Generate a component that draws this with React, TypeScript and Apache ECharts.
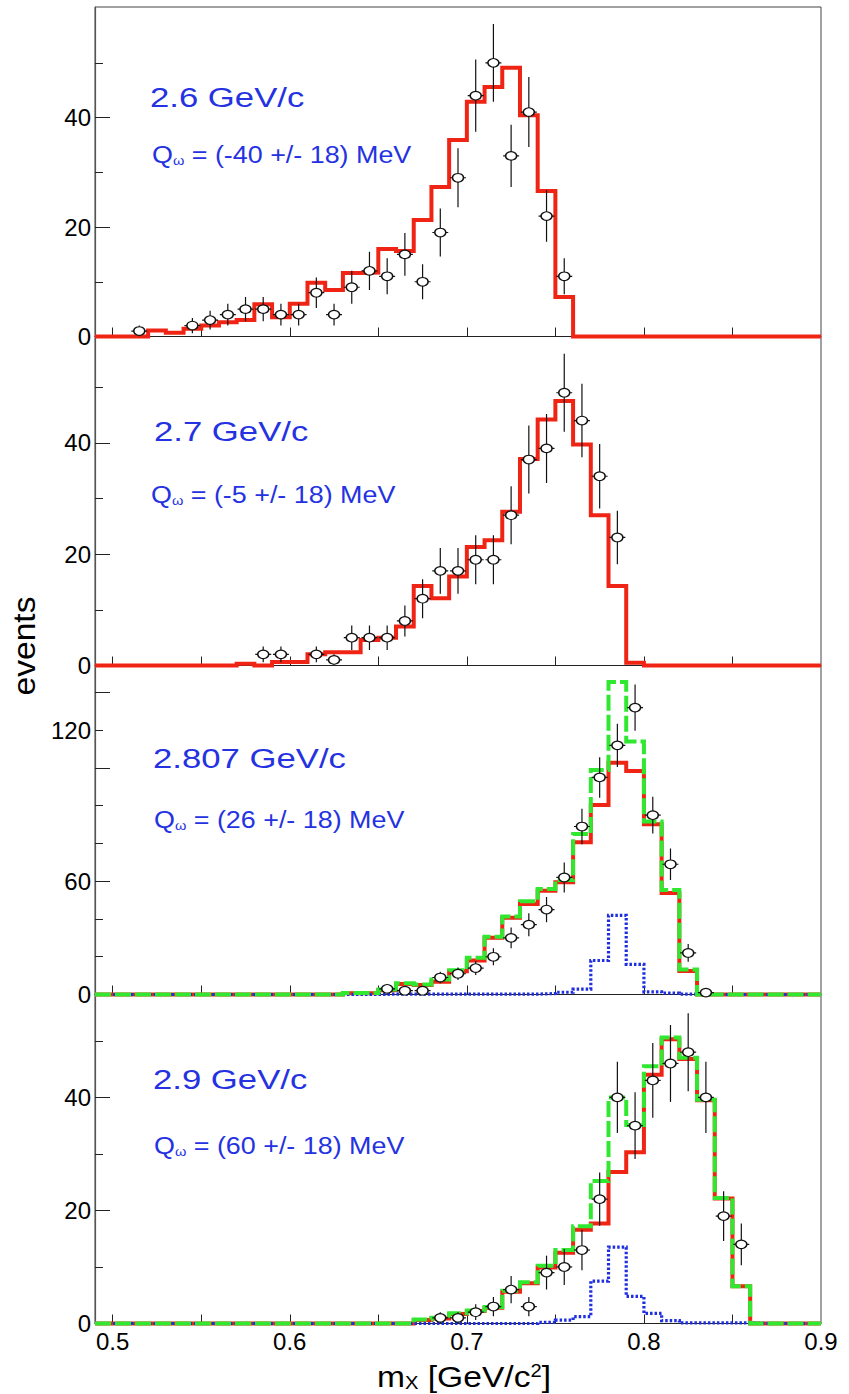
import React, { useEffect, useRef } from "react";
import * as echarts from "echarts";

// ---------- data ----------
const BIN_EDGES = [
  0.49, 0.5, 0.51, 0.52, 0.53, 0.54, 0.55, 0.56, 0.57, 0.58, 0.59, 0.6, 0.61, 0.62,
  0.63, 0.64, 0.65, 0.66, 0.67, 0.68, 0.69, 0.7, 0.71, 0.72, 0.73, 0.74, 0.75, 0.76,
  0.77, 0.78, 0.79, 0.8, 0.81, 0.82, 0.83, 0.84, 0.85, 0.86, 0.87, 0.88, 0.89, 0.9,
];

const P1_RED = [
  0, 0, 0, 1.1, 0.7, 1.4, 2.0, 2.6, 3.0, 5.9, 3.5, 6.0, 9.8, 8.5, 11.6, 11.7, 16.0, 15.6,
  21.3, 27.3, 35.9, 42.9, 45.6, 49.1, 40.4, 26.6, 7.2, 0, 0, 0, 0, 0, 0, 0, 0, 0, 0, 0, 0, 0, 0,
];
const P2_RED = [
  0, 0, 0, 0, 0, 0, 0, 0, 0.3, 0, 0.65, 0.65, 2.0, 2.4, 2.4, 4.6, 5.0, 7.0, 14.3, 12.1, 16.0,
  21.3, 22.5, 27.6, 37.1, 44.2, 47.5, 39.7, 27.0, 14.3, 0.5, 0, 0, 0, 0, 0, 0, 0, 0, 0, 0,
];
const P3_RED = [
  0, 0, 0, 0, 0, 0, 0, 0, 0, 0, 0, 0, 0, 0, 0.6, 0.6, 2.3, 5.5, 5.0, 6.7, 12.3, 18.0, 30.0,
  40.6, 48.0, 55.0, 59.5, 80.6, 100.4, 122.8, 118.4, 90.2, 53.8, 12.5, 0, 0, 0, 0, 0, 0, 0,
];
const P3_GREEN = [
  0, 0, 0, 0, 0, 0, 0, 0, 0, 0, 0, 0, 0, 0, 0.8, 0.8, 2.6, 6.0, 5.3, 8.0, 12.8, 19.5, 30.6,
  41.3, 49.4, 55.9, 60.7, 85.0, 119.0, 165.5, 134.0, 91.6, 55.4, 13.2, 0, 0, 0, 0, 0, 0, 0,
];
const P3_BLUE = [
  0, 0, 0, 0, 0, 0, 0, 0, 0, 0, 0, 0, 0, 0, 0, 0, 0.2, 0.2, 0.2, 0.2, 0.2, 0.2, 0.2, 0.2, 0.2,
  0.5, 1.2, 2.8, 18.0, 41.9, 16.0, 1.4, 0.7, 0.2, 0, 0, 0, 0, 0, 0, 0,
];
const P4_RED = [
  0, 0, 0, 0, 0, 0, 0, 0, 0, 0, 0, 0, 0, 0, 0, 0, 0, 0, 0.6, 0.9, 1.7, 2.2, 2.8, 5.6, 7.1,
  9.9, 12.5, 16.6, 17.7, 26.8, 30.3, 44.0, 50.3, 46.8, 39.5, 22.1, 6.6, 0, 0, 0, 0,
];
const P4_GREEN = [
  0, 0, 0, 0, 0, 0, 0, 0, 0, 0, 0, 0, 0, 0, 0, 0, 0, 0, 0.7, 1.0, 1.8, 2.3, 2.9, 5.8, 7.3,
  10.2, 13.0, 17.2, 25.2, 40.0, 35.1, 45.5, 50.6, 47.0, 39.6, 22.2, 6.6, 0, 0, 0, 0,
];
const P4_BLUE = [
  0, 0, 0, 0, 0, 0, 0, 0, 0, 0, 0, 0, 0, 0, 0, 0, 0, 0, 0, 0, 0, 0, 0, 0, 0, 0.2, 0.6, 1.2,
  7.5, 13.5, 4.8, 1.8, 0.5, 0.1, 0.1, 0.1, 0.1, 0, 0, 0, 0,
];

const P1_X = [0.515, 0.545, 0.555, 0.565, 0.575, 0.585, 0.595, 0.605, 0.615, 0.625, 0.635, 0.645, 0.655, 0.665, 0.675, 0.685, 0.695, 0.705, 0.715, 0.725, 0.735, 0.745, 0.755];
const P1_Y = [1, 2, 3, 4, 5, 5, 4, 4, 8, 4, 9, 12, 11, 15, 10, 19, 29, 44, 50, 33, 41, 22, 11];
const P1_ERR = [1.0, 1.4, 1.7, 2.0, 2.2, 2.2, 2.0, 2.0, 2.8, 2.0, 3.0, 3.5, 3.3, 3.9, 3.2, 4.4, 5.4, 6.6, 7.1, 5.7, 6.4, 4.7, 3.3];

const P2_X = [0.585, 0.595, 0.615, 0.625, 0.635, 0.645, 0.655, 0.665, 0.675, 0.685, 0.695, 0.705, 0.715, 0.725, 0.735, 0.745, 0.755, 0.765, 0.775, 0.785];
const P2_Y = [2, 2, 2, 1, 5, 5, 5, 8, 12, 17, 17, 19, 19, 27, 37, 39, 49, 44, 34, 23];
const P2_ERR = [1.4, 1.4, 1.4, 1.0, 2.2, 2.2, 2.2, 2.8, 3.5, 4.1, 4.1, 4.4, 4.4, 5.2, 6.1, 6.2, 7.0, 6.6, 5.8, 4.8];

const P3_X = [0.655, 0.665, 0.675, 0.685, 0.695, 0.705, 0.715, 0.725, 0.735, 0.745, 0.755, 0.765, 0.775, 0.785, 0.795, 0.805, 0.815, 0.825, 0.835];
const P3_Y = [3, 2, 2, 9, 11, 14, 20, 30, 37, 45, 62, 89, 115, 132, 152, 95, 69, 22, 1];
const P3_ERR = [1.7, 1.4, 1.4, 3.0, 3.3, 3.7, 4.5, 5.5, 6.1, 6.7, 7.9, 9.4, 10.7, 11.5, 12.3, 9.7, 8.3, 4.7, 1.0];

const P4_X = [0.685, 0.695, 0.705, 0.715, 0.725, 0.735, 0.745, 0.755, 0.765, 0.775, 0.785, 0.795, 0.805, 0.815, 0.825, 0.835, 0.845, 0.855];
const P4_Y = [1, 1, 2, 3, 6, 3, 9, 10, 13, 22, 40, 35, 43, 46, 48, 40, 19, 14];
const P4_ERR = [1.0, 1.0, 1.4, 1.7, 2.4, 1.7, 3.0, 3.2, 3.6, 4.7, 6.3, 5.9, 6.6, 6.8, 6.9, 6.3, 4.4, 3.7];

// tick / label values
const X_TICKS = [0.5, 0.55, 0.6, 0.65, 0.7, 0.75, 0.8, 0.85];
const X_LABELS = [0.5, 0.6, 0.7, 0.8, 0.9];
const Y_MAJOR_STD = [20, 40];
const Y_MINOR_STD = [10, 30, 50];
const Y_LABEL_VALUES_STD = [0, 20, 40];
const Y_LABEL_TEXTS_STD = ["0", "20", "40"];
const Y_MAJOR_P3 = [60, 120, 160];
const Y_MINOR_P3 = [20, 40, 80, 100, 140];
const Y_LABEL_VALUES_P3 = [0, 60, 140];
const Y_LABEL_TEXTS_P3 = ["0", "60", "120"];

const BEAM_LABELS = ["2.6 GeV/c", "2.7 GeV/c", "2.807 GeV/c", "2.9 GeV/c"];
const Q_LABELS = ["(-40 +/- 18) MeV", "(-5 +/- 18) MeV", "(26 +/- 18) MeV", "(60 +/- 18) MeV"];

// ---------- style / layout ----------
const FONT = "'Liberation Sans', Arial, Helvetica, sans-serif";
const RED = "#ef2414";
const GREEN = "#30e830";
const BLUE = "#1e2ee0";
const TEXT_BLUE = "#2532e2";
const XHALF = 0.0045;

const PANELS = [
  { top: 7, height: 329.5, yMax: 60.2, major: Y_MAJOR_STD, minor: Y_MINOR_STD, lv: Y_LABEL_VALUES_STD, lt: Y_LABEL_TEXTS_STD, red: P1_RED, green: null, blue: null, px: P1_X, py: P1_Y, pe: P1_ERR, tx: 150, ty: 97, qx: 152, qy: 155 },
  { top: 336.5, height: 329, yMax: 59.1, major: Y_MAJOR_STD, minor: Y_MINOR_STD, lv: Y_LABEL_VALUES_STD, lt: Y_LABEL_TEXTS_STD, red: P2_RED, green: null, blue: null, px: P2_X, py: P2_Y, pe: P2_ERR, tx: 154, ty: 431, qx: 151, qy: 495 },
  { top: 665.5, height: 329, yMax: 174.3, major: Y_MAJOR_P3, minor: Y_MINOR_P3, lv: Y_LABEL_VALUES_P3, lt: Y_LABEL_TEXTS_P3, red: P3_RED, green: P3_GREEN, blue: P3_BLUE, px: P3_X, py: P3_Y, pe: P3_ERR, tx: 153, ty: 758, qx: 154, qy: 820 },
  { top: 994.5, height: 329, yMax: 58.2, major: Y_MAJOR_STD, minor: Y_MINOR_STD, lv: Y_LABEL_VALUES_STD, lt: Y_LABEL_TEXTS_STD, red: P4_RED, green: P4_GREEN, blue: P4_BLUE, px: P4_X, py: P4_Y, pe: P4_ERR, tx: 153, ty: 1079, qx: 154, qy: 1146 },
];

function histData(values: number[]) {
  return BIN_EDGES.map((e, i) => [e, values[Math.min(i, values.length - 1)]]);
}

function buildOption() {
  const grid: any[] = [];
  const xAxis: any[] = [];
  const yAxis: any[] = [];
  const series: any[] = [];
  const elements: any[] = [];

  PANELS.forEach((p, i) => {
    grid.push({
      left: 95,
      width: 726,
      top: p.top,
      height: p.height,
      show: true,
      borderColor: "#444",
      borderWidth: 1,
      backgroundColor: "transparent",
      outerBoundsMode: "none",
    });
    xAxis.push({
      type: "value",
      gridIndex: i,
      min: 0.49,
      max: 0.9,
      axisLine: { show: true, onZero: false, lineStyle: { color: "#222", width: 1 } },
      axisTick: { show: true, inside: true, length: 9, customValues: X_TICKS, lineStyle: { color: "#222", width: 1 } },
      axisLabel: {
        show: i === 3,
        customValues: X_LABELS,
        formatter: (v: number) => v.toFixed(1),
        fontSize: 24,
        fontFamily: FONT,
        color: "#000",
        margin: 6,
      },
      splitLine: { show: false },
    });
    const lv = p.lv;
    const lt = p.lt;
    yAxis.push({
      type: "value",
      gridIndex: i,
      min: 0,
      max: p.yMax,
      position: "left",
      axisLine: { show: true, onZero: false, lineStyle: { color: "#555", width: 1.2 } },
      axisTick: { show: true, inside: true, length: 15, customValues: p.major, lineStyle: { color: "#222", width: 1 } },
      axisLabel: {
        show: true,
        customValues: lv,
        formatter: (v: number) => {
          const k = lv.findIndex((a) => Math.abs(a - v) < 1e-6);
          return k >= 0 ? lt[k] : "";
        },
        fontSize: 24,
        fontFamily: FONT,
        color: "#000",
        margin: 4,
      },
      splitLine: { show: false },
    });
    yAxis.push({
      type: "value",
      gridIndex: i,
      min: 0,
      max: p.yMax,
      position: "left",
      axisLine: { show: false },
      axisTick: { show: true, inside: true, length: 8, customValues: p.minor, lineStyle: { color: "#222", width: 1 } },
      axisLabel: { show: false },
      splitLine: { show: false },
    });
    const yi = 2 * i;
    series.push({
      type: "line",
      xAxisIndex: i,
      yAxisIndex: yi,
      data: histData(p.red),
      step: "end",
      showSymbol: false,
      symbol: "none",
      clip: false,
      silent: true,
      lineStyle: { color: RED, width: 4, join: "miter" },
      z: 2,
    });
    if (p.blue) {
      series.push({
        type: "line",
        xAxisIndex: i,
        yAxisIndex: yi,
        data: histData(p.blue),
        step: "end",
        showSymbol: false,
        symbol: "none",
        clip: false,
        silent: true,
        lineStyle: { color: BLUE, width: 3.2, type: [2.5, 2], join: "miter" },
        z: 3,
      });
    }
    if (p.green) {
      series.push({
        type: "line",
        xAxisIndex: i,
        yAxisIndex: yi,
        data: histData(p.green),
        step: "end",
        showSymbol: false,
        symbol: "none",
        clip: false,
        silent: true,
        lineStyle: { color: GREEN, width: 4, type: [16, 4], join: "miter" },
        z: 4,
      });
    }
    series.push({
      type: "custom",
      xAxisIndex: i,
      yAxisIndex: yi,
      clip: true,
      silent: true,
      z: 5,
      data: p.px.map((x, k) => [x, p.py[k], p.pe[k]]),
      encode: { x: 0, y: 1 },
      renderItem: (_params: any, api: any) => {
        const x = api.value(0);
        const y = api.value(1);
        const e = api.value(2);
        const top = api.coord([x, y + e]);
        const bot = api.coord([x, Math.max(0, y - e)]);
        const l = api.coord([x - XHALF, y]);
        const r = api.coord([x + XHALF, y]);
        const style = { stroke: "#111", lineWidth: 1.2, fill: null };
        return {
          type: "group",
          children: [
            { type: "line", shape: { x1: top[0], y1: top[1], x2: bot[0], y2: bot[1] }, style },
            { type: "line", shape: { x1: l[0], y1: l[1], x2: r[0], y2: r[1] }, style },
          ],
        };
      },
    });
    series.push({
      type: "scatter",
      xAxisIndex: i,
      yAxisIndex: yi,
      silent: true,
      data: p.px.map((x, k) => [x, p.py[k]]),
      symbol: "circle",
      symbolSize: [11, 8.5],
      itemStyle: { color: "#fff", borderColor: "#111", borderWidth: 1.3, opacity: 1 },
      z: 6,
    });

    elements.push({
      type: "text",
      x: p.tx,
      y: p.ty,
      scaleX: 1.24,
      z: 20,
      style: { text: BEAM_LABELS[i], fontSize: 28, fontFamily: FONT, fill: TEXT_BLUE, align: "left", verticalAlign: "middle" },
    });
    elements.push({
      type: "text",
      x: p.qx,
      y: p.qy,
      scaleX: 1.12,
      z: 20,
      style: {
        text: "Q{w|ω} = " + Q_LABELS[i],
        fontSize: 24,
        fontFamily: FONT,
        fill: TEXT_BLUE,
        align: "left",
        verticalAlign: "middle",
        rich: { w: { fontSize: 13, fontFamily: FONT, fill: TEXT_BLUE, verticalAlign: "bottom" } },
      },
    });
  });

  elements.push({
    type: "text",
    x: 24,
    y: 646,
    rotation: Math.PI / 2,
    scaleX: 1.05,
    z: 20,
    style: { text: "events", fontSize: 32, fontFamily: FONT, fill: "#000", align: "center", verticalAlign: "middle" },
  });
  elements.push({
    type: "text",
    x: 464,
    y: 1377,
    scaleX: 1.12,
    z: 20,
    style: {
      text: "m{sub|X} [GeV/c{sup|2}]",
      fontSize: 30,
      fontFamily: FONT,
      fill: "#000",
      align: "center",
      verticalAlign: "middle",
      rich: {
        sub: { fontSize: 18, fontFamily: FONT, fill: "#000", verticalAlign: "bottom" },
        sup: { fontSize: 18, fontFamily: FONT, fill: "#000", verticalAlign: "top" },
      },
    },
  });

  return {
    animation: false,
    backgroundColor: "#fff",
    grid,
    xAxis,
    yAxis,
    series,
    graphic: { elements },
  };
}

export default function App() {
  const ref = useRef<HTMLDivElement>(null);
  useEffect(() => {
    const chart = echarts.init(ref.current as HTMLDivElement, null, { renderer: "svg" });
    chart.setOption(buildOption() as any);
    return () => chart.dispose();
  }, []);
  return (
    <div
      ref={ref}
      style={{ position: "absolute", left: 0, top: 0, width: 849, height: 1394, background: "#fff" }}
    />
  );
}
